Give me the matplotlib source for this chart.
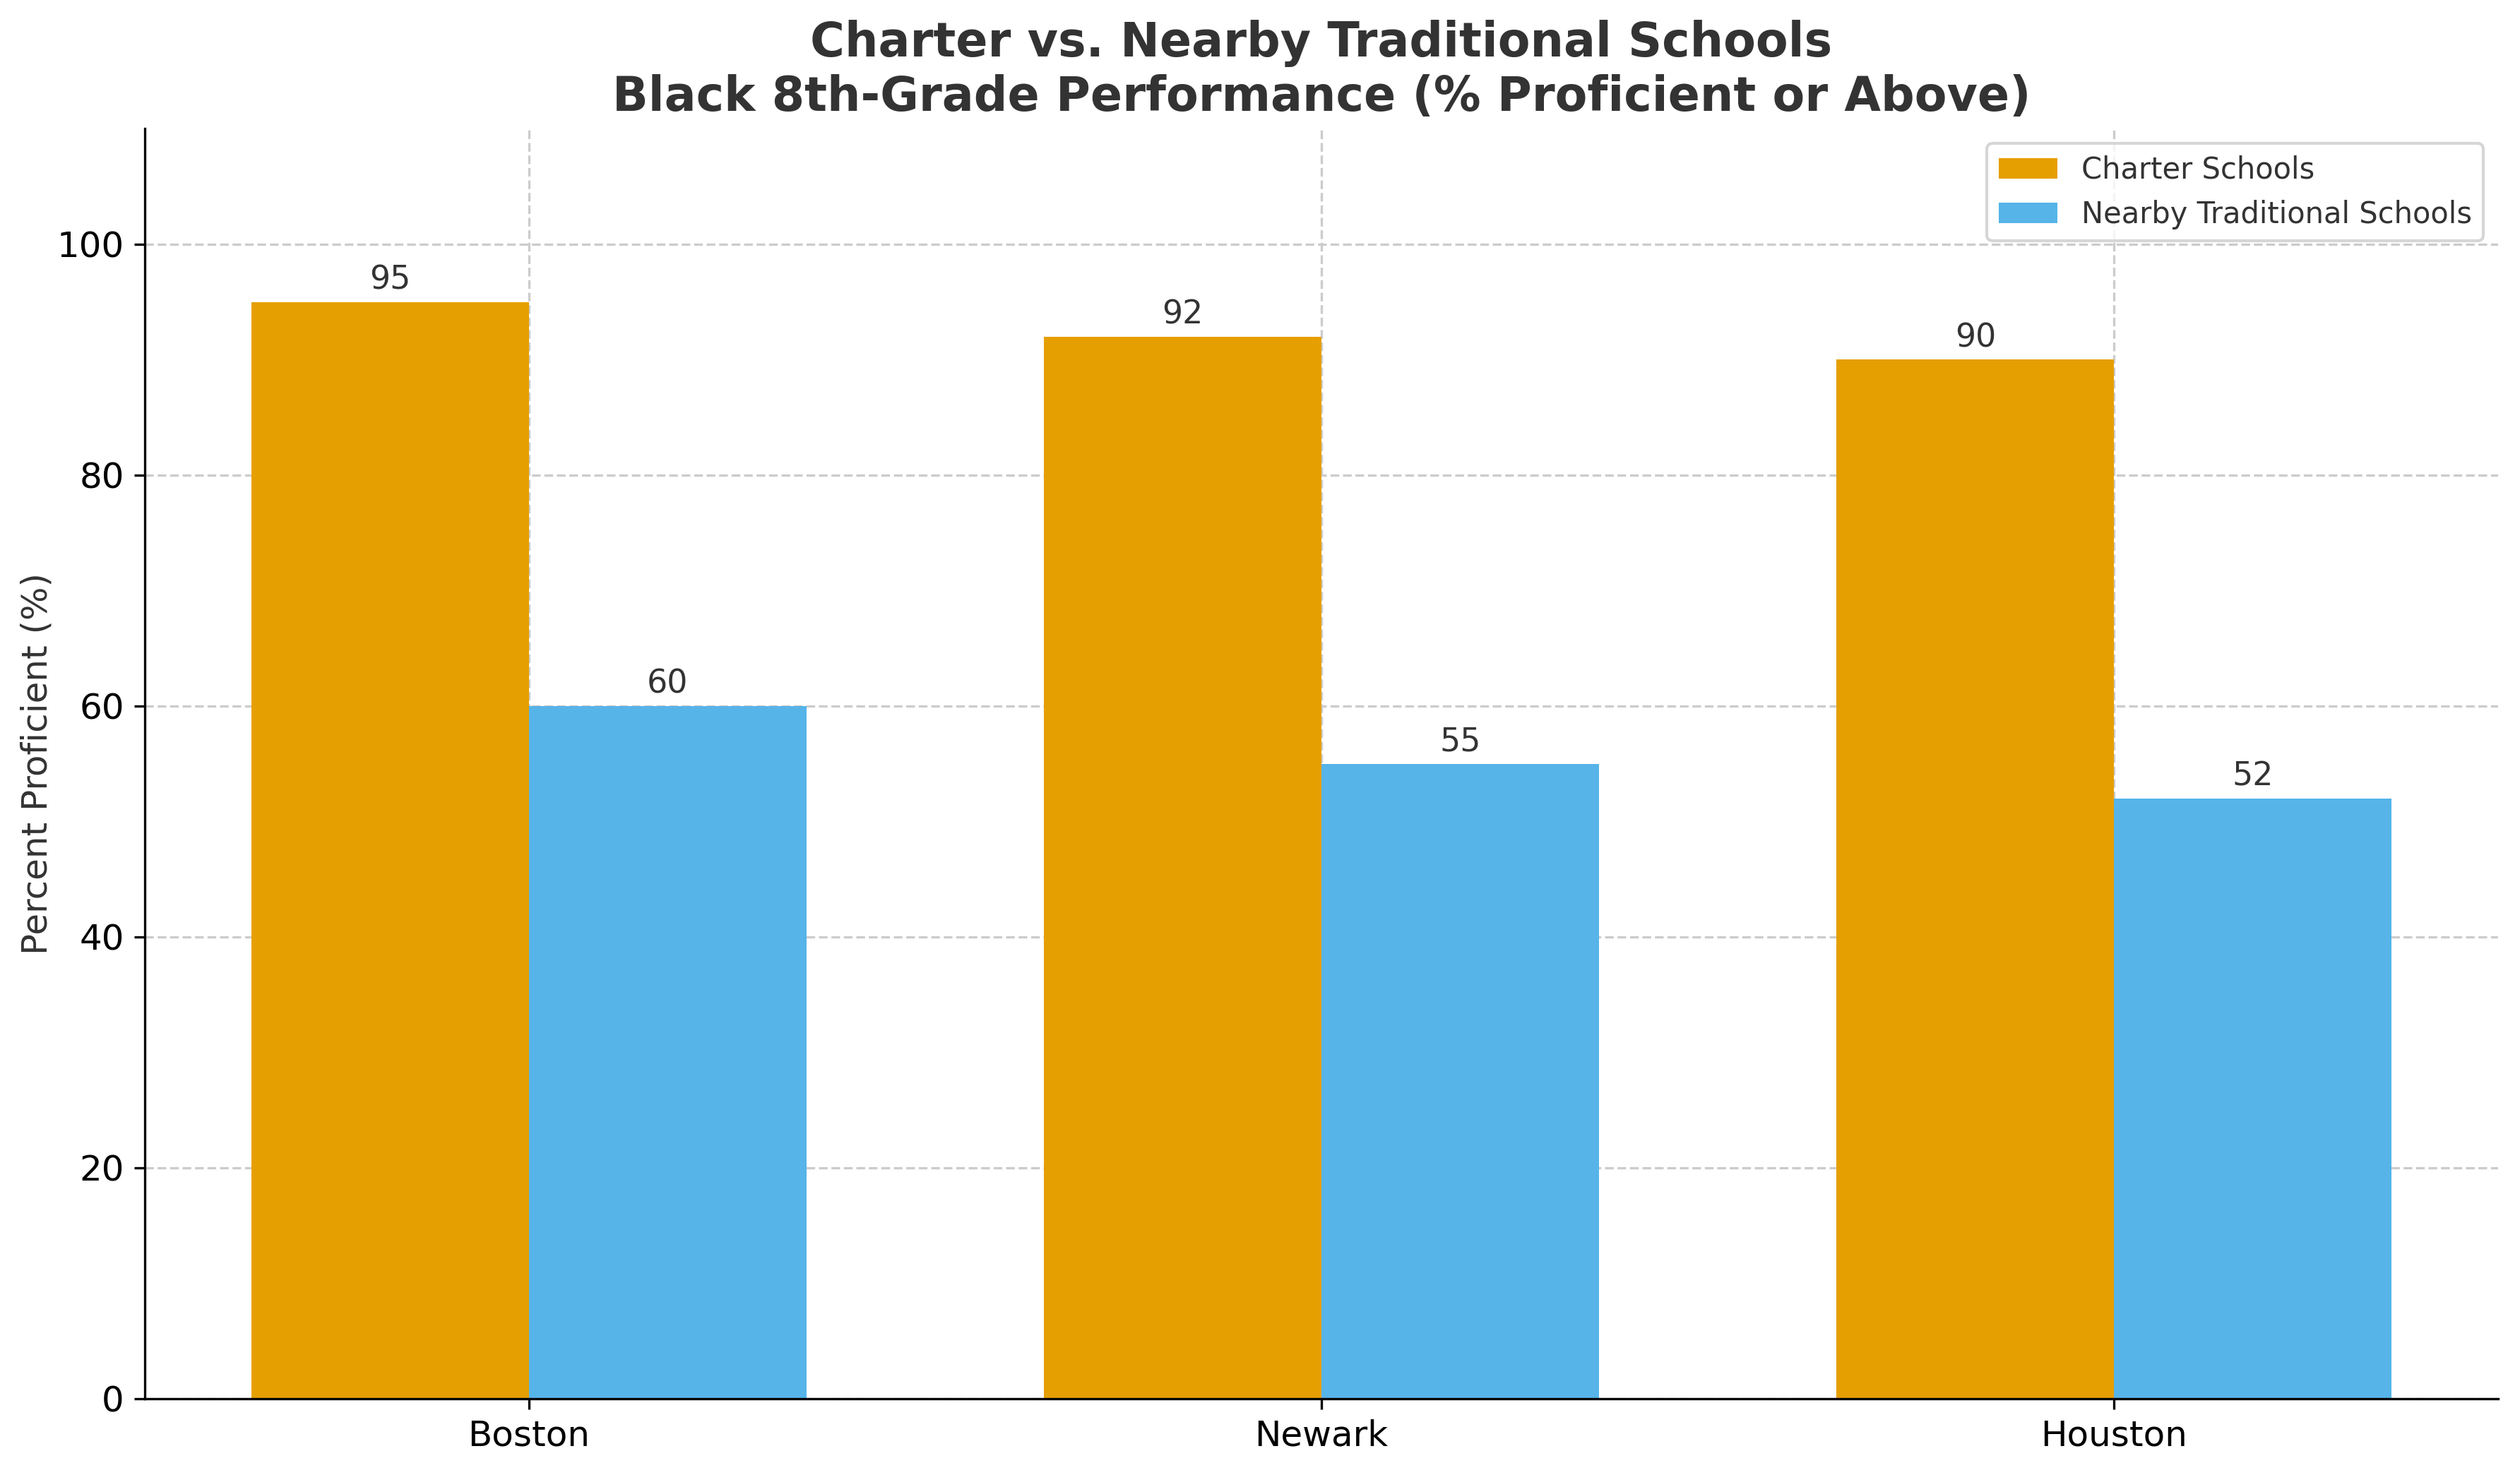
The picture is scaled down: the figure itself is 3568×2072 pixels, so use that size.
import matplotlib
matplotlib.use("Agg")
import matplotlib.pyplot as plt
import numpy as np

cities = ["Boston", "Newark", "Houston"]
charter = [95, 92, 90]
traditional = [60, 55, 52]
series_labels = ["Charter Schools", "Nearby Traditional Schools"]
colors = ["#E69F00", "#56B4E9"]

fig = plt.figure(figsize=(3568 / 300, 2072 / 300), dpi=300)
ax = fig.add_axes([0.0574, 0.044, 0.934, 0.868])

x = np.arange(len(cities))
w = 0.35
b1 = ax.bar(x - w / 2, charter, w, color=colors[0], label=series_labels[0], zorder=2)
b2 = ax.bar(x + w / 2, traditional, w, color=colors[1], label=series_labels[1], zorder=2)

for bars in (b1, b2):
    ax.bar_label(bars, padding=2, fontsize=11, color="#333333")

ax.set_xticks(x)
ax.set_xticklabels(cities, fontsize=12)
ax.tick_params(axis="y", labelsize=12)
ax.set_ylim(0, 110)
ax.set_ylabel("Percent Proficient (%)", fontsize=12, color="#333333", labelpad=1)
ax.set_title("Charter vs. Nearby Traditional Schools\nBlack 8th-Grade Performance (% Proficient or Above)",
             fontsize=16, fontweight="bold", color="#333333", pad=6)
ax.grid(True, linestyle="--", color="#cccccc", linewidth=0.8, zorder=0)
ax.set_axisbelow(True)
ax.spines["top"].set_visible(False)
ax.spines["right"].set_visible(False)
ax.legend(loc="upper right", fontsize=10, labelcolor="#333333")

fig.savefig("out.png", dpi=300)
